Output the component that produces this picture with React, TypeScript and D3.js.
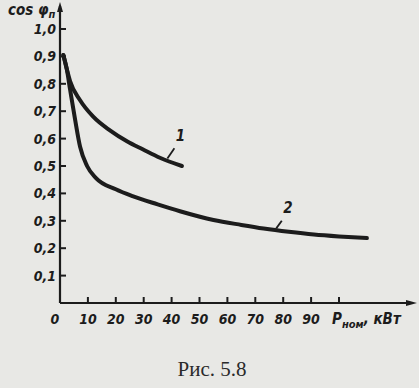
import React from "react";
import * as d3 from "d3";

const xTicks = [10, 20, 30, 40, 50, 60, 70, 80, 90, 100];
const xTickLabels = ["10", "20", "30", "40", "50", "60", "70", "80", "90", ""];
const yTicks = [0.1, 0.2, 0.3, 0.4, 0.5, 0.6, 0.7, 0.8, 0.9, 1.0];
const yTickLabels = ["0,1", "0,2", "0,3", "0,4", "0,5", "0,6", "0,7", "0,8", "0,9", "1,0"];

const curve1P = [1.2, 2.4, 3.6, 7.2, 11.9, 17.9, 24, 29.8, 35.8, 43.7];
const curve1Cos = [0.905, 0.855, 0.81, 0.74, 0.68, 0.63, 0.59, 0.56, 0.53, 0.5];

const curve2P = [1.2, 2.4, 3.6, 5.4, 7.2, 9.7, 13, 20, 26, 35, 43, 55, 65, 73, 82, 91, 100, 110];
const curve2Cos = [0.905, 0.855, 0.78, 0.67, 0.57, 0.5, 0.455, 0.415, 0.39, 0.36, 0.335, 0.303, 0.285, 0.272, 0.26, 0.25, 0.243, 0.237];

const W = 419;
const H = 388;

export default function App() {
  const x = d3.scaleLinear().domain([0, 100]).range([60, 339]);
  const y = d3.scaleLinear().domain([0, 1]).range([303, 29]);
  const line = d3
    .line<[number, number]>()
    .x((d) => x(d[0]))
    .y((d) => y(d[1]))
    .curve(d3.curveMonotoneX);
  const c1 = curve1P.map((p, i) => [p, curve1Cos[i]] as [number, number]);
  const c2 = curve2P.map((p, i) => [p, curve2Cos[i]] as [number, number]);
  const ink = "#1c1c1c";
  const font = "'DejaVu Sans Condensed', 'DejaVu Sans', sans-serif";
  const x0 = x(0);
  const y0 = y(0);
  return (
    <div style={{ position: "fixed", left: 0, top: 0, width: W, height: H }}>
      <svg width={W} height={H} style={{ display: "block" }}>
        <rect x={0} y={0} width={W} height={H} fill="#e8e8e5" />
        {/* axes */}
        <line x1={x0} y1={y0} x2={x0} y2={6} stroke={ink} strokeWidth={2.2} />
        <path d={`M${x0 - 3},12 L${x0},2 L${x0 + 3},12 Z`} fill={ink} />
        <line x1={x0} y1={y0} x2={412} y2={y0} stroke={ink} strokeWidth={2.2} />
        <path d={`M406,${y0 - 3} L417,${y0} L406,${y0 + 3} Z`} fill={ink} />
        {yTicks.map((t, i) => (
          <g key={"y" + i}>
            <line x1={x0} x2={x0 + 6} y1={y(t)} y2={y(t)} stroke={ink} strokeWidth={2} />
            <text
              x={56}
              y={y(t) + 5}
              textAnchor="end"
              fontFamily={font}
              fontStyle="italic"
              fontWeight="bold"
              fontSize={14}
              fill={ink}
            >
              {yTickLabels[i]}
            </text>
          </g>
        ))}
        {xTicks.map((t, i) => (
          <g key={"x" + i}>
            <line x1={x(t)} x2={x(t)} y1={y0} y2={y0 - 6} stroke={ink} strokeWidth={2} />
            <text
              x={x(t)}
              y={324}
              textAnchor="middle"
              fontFamily={font}
              fontStyle="italic"
              fontWeight="bold"
              fontSize={14}
              fill={ink}
            >
              {xTickLabels[i]}
            </text>
          </g>
        ))}
        <text x={55} y={324} textAnchor="middle" fontFamily={font} fontStyle="italic" fontWeight="bold" fontSize={14} fill={ink}>
          0
        </text>
        {/* axis titles */}
        <text x={8} y={15} fontFamily={font} fontStyle="italic" fontWeight="bold" fontSize={15} fill={ink}>
          cos φ
          <tspan fontSize={11} dy={3}>п</tspan>
        </text>
        <text x={332} y={324} fontFamily={font} fontStyle="italic" fontWeight="bold" fontSize={15} fill={ink}>
          P
          <tspan fontSize={11} dy={4}>ном</tspan>
          <tspan dy={-4}>, кВт</tspan>
        </text>
        {/* curves */}
        <path d={line(c2) || ""} fill="none" stroke={ink} strokeWidth={4} strokeLinecap="round" />
        <path d={line(c1) || ""} fill="none" stroke={ink} strokeWidth={4} strokeLinecap="round" />
        {/* curve labels */}
        <line x1={x(38.5)} y1={y(0.52) - 2} x2={x(41)} y2={y(0.565)} stroke={ink} strokeWidth={1.8} />
        <text x={x(41.5)} y={y(0.59)} fontFamily={font} fontStyle="italic" fontWeight="bold" fontSize={15} fill={ink}>
          1
        </text>
        <line x1={x(77.5)} y1={y(0.265) - 2} x2={x(79.5)} y2={y(0.3)} stroke={ink} strokeWidth={1.8} />
        <text x={x(80)} y={y(0.33)} fontFamily={font} fontStyle="italic" fontWeight="bold" fontSize={15} fill={ink}>
          2
        </text>
        {/* caption */}
        <text x={212} y={376} textAnchor="middle" fontFamily="'Liberation Serif', 'DejaVu Serif', serif" fontSize={21} fill="#2a2a2a">
          Рис. 5.8
        </text>
      </svg>
    </div>
  );
}
